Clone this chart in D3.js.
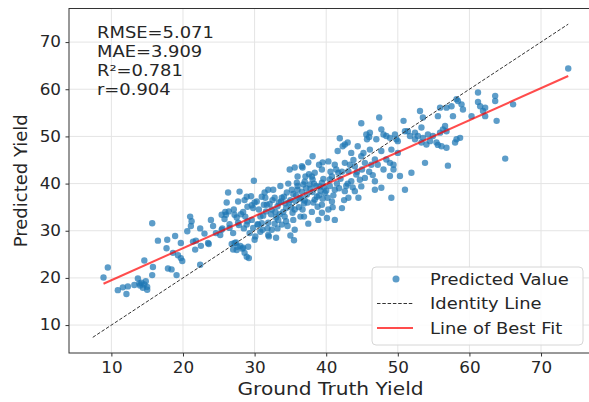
<!DOCTYPE html>
<html>
<head>
<meta charset="utf-8">
<script src="https://cdn.jsdelivr.net/npm/d3@7"></script>
<style>
  html, body { margin: 0; padding: 0; background: #fff; }
  svg { display: block; font-family: "DejaVu Sans", sans-serif; }
</style>
</head>
<body>
<svg id="chart" width="589" height="402"></svg>
<script>
// Each sample: [ground truth yield, predicted yield]
const yieldPairs = [
  [8.9,20.1],[9.5,22.2],[10.9,17.4],[11.6,18.0],[12.1,16.6],[12.3,18.2],
  [13.2,18.5],[13.7,19.9],[13.9,18.8],[14.0,18.4],[14.2,19.0],[14.4,17.9],[14.6,18.6],[14.6,23.7],[14.8,19.3],[15.0,18.1],[15.0,17.5],[15.7,20.6],[15.8,22.3],[15.7,31.6],
  [16.5,27.9],[17.7,26.3],[17.8,28.1],[17.9,22.0],[18.4,21.8],[18.6,25.3],[18.9,28.9],[19.1,20.6],[19.3,24.8],[19.7,24.2],[19.9,23.6],[19.7,27.4],
  [20.6,29.9],[21.0,33.0],[21.2,32.0],[21.1,31.0],[21.4,27.7],[21.7,26.0],[21.8,27.9],[22.4,22.8],[22.4,30.5],[22.5,26.8],[23.0,29.4],[23.5,27.4],[23.6,27.2],[23.9,32.3],[24.2,31.0],
  [24.6,29.5],[25.2,29.1],[25.4,30.2],[25.4,33.4],[25.5,30.5],[25.8,32.5],[25.9,34.0],[26.0,33.4],[26.1,36.0],[26.3,38.1],[26.4,34.1],[26.5,30.6],[26.5,31.4],[26.8,27.2],
  [27.0,29.5],[27.0,26.0],[27.1,34.5],[27.2,33.4],[27.2,27.4],[27.4,27.5],[27.5,25.9],[27.5,32.8],[27.6,26.6],[27.7,31.7],[27.7,36.2],[27.8,31.2],[27.9,38.3],[28.0,26.8],
  [28.1,33.5],[28.3,26.2],[28.4,26.4],[28.4,34.0],[28.5,30.5],[28.6,25.3],[28.6,36.5],[28.7,33.0],[28.9,24.5],[28.9,31.3],[28.9,37.2],[29.0,32.0],[29.0,35.1],[29.1,26.6],[29.2,24.2],
  [29.3,29.5],[29.5,37.3],[29.6,32.3],[29.6,35.4],[29.8,34.8],[29.9,40.6],[30.0,28.1],[30.1,28.8],[30.0,36.0],[30.3,36.2],[30.4,31.4],[30.5,31.3],[30.8,29.8],[30.8,33.0],[31.0,31.6],
  [31.0,37.2],[31.1,30.2],[31.3,35.5],[31.4,38.1],[31.5,37.0],[31.6,34.1],[31.7,35.5],[31.8,30.5],[31.9,38.7],[31.9,31.7],[31.9,29.1],[32.0,28.8],[30.6,34.5],[31.2,33.2],[29.8,30.6],
  [32.1,35.7],[32.3,33.5],[32.4,34.5],[32.4,30.2],[32.6,38.7],[32.8,37.0],[33.0,32.8],[33.3,32.3],[33.4,36.0],[33.6,39.5],[33.8,37.0],[33.8,31.3],[34.0,34.0],[34.2,33.0],[34.3,35.8],
  [34.5,38.1],[34.6,31.0],[34.7,40.0],[34.9,43.0],[35.0,36.5],[35.2,38.7],[35.3,33.8],[35.4,32.3],[35.6,30.2],[35.6,34.5],[35.6,43.4],[35.8,37.5],[35.9,40.2],[35.0,29.0],[33.0,28.5],[35.5,28.0],
  [32.5,36.5],[32.9,34.0],[33.2,35.2],[33.5,33.5],[33.7,36.2],[34.1,37.2],[34.4,34.8],[34.8,36.0],[35.1,35.0],[35.4,37.8],[35.7,36.3],[33.2,30.5],[34.4,32.0],[32.8,31.5],
  [36.0,41.5],[36.0,38.7],[36.2,35.0],[36.4,33.0],[36.7,43.4],[36.7,34.5],[36.8,39.8],[37.0,40.4],[37.0,36.4],[37.3,37.7],[37.5,31.5],[37.6,42.0],[37.8,38.9],[38.0,34.0],[38.1,40.9],
  [38.2,36.0],[38.4,42.3],[38.4,36.6],[38.6,39.5],[38.8,35.1],[38.9,32.3],[39.0,37.5],[39.1,39.4],[39.4,33.8],[39.4,35.5],[39.4,40.2],[39.4,43.0],[39.6,41.0],[39.8,38.0],[36.5,37.0],
  [37.2,39.0],[38.0,41.5],[39.0,44.0],[37.5,44.5],[36.6,43.7],[39.5,44.5],[38.1,45.8],[36.0,39.5],[36.3,36.8],[36.6,38.3],[36.9,35.8],[37.1,41.5],[37.4,36.0],[37.7,39.8],[38.1,38.2],
  [38.3,40.0],[38.7,37.2],[39.2,38.5],[39.5,36.8],[39.7,39.2],[36.9,33.0],
  [40.1,32.7],[40.3,34.5],[40.3,44.7],[40.5,40.9],[40.8,36.2],[41.2,32.3],[41.2,38.7],[41.2,44.0],[41.6,46.9],[41.7,42.3],[41.9,49.6],[42.2,34.8],[42.3,47.9],[42.6,38.4],[42.6,44.4],
  [42.6,48.3],[43.0,48.7],[43.1,37.0],[43.1,42.6],[43.5,40.5],[43.5,46.5],[44.0,38.4],[44.0,43.7],[44.2,41.9],[40.6,42.5],[41.5,40.0],[42.0,41.0],[42.8,39.5],[43.8,45.0],[40.0,38.5],
  [40.9,35.0],[40.2,37.0],[40.5,39.5],[40.8,41.5],[41.0,37.5],[41.4,43.0],[41.8,39.0],[42.2,42.5],[42.5,36.5],[43.0,40.0],[43.3,44.0],[43.7,39.2],
  [44.4,47.9],[44.5,37.0],[44.9,39.4],[44.9,45.8],[44.9,52.8],[45.4,41.2],[45.4,44.4],[45.6,50.4],[45.7,49.4],[46.0,49.9],[46.1,47.2],[46.1,50.8],[46.8,38.7],[46.8,40.5],[46.8,45.1],
  [47.0,49.4],[47.4,54.0],[47.7,39.1],[47.7,46.9],[47.7,51.5],[48.0,43.0],[48.0,50.4],[45.0,43.0],[46.0,42.5],[47.2,44.0],[44.3,42.5],[44.7,40.8],[45.2,46.5],[46.3,44.0],[46.5,41.8],
  [48.4,45.1],[48.4,50.1],[48.9,41.6],[48.9,44.4],[48.9,49.7],[49.1,37.0],[49.1,47.2],[49.4,43.0],[49.6,50.4],[49.8,49.4],[50.0,46.5],[50.0,49.0],[50.3,41.6],[50.8,53.3],[51.0,38.7],
  [51.0,51.1],[51.4,51.1],[51.7,50.1],[51.9,42.3],[49.4,44.0],
  [52.4,49.4],[52.4,50.8],[52.8,50.1],[53.1,55.4],[53.3,48.7],[53.3,51.9],[53.5,54.0],[53.5,49.7],[53.8,44.4],[54.0,48.3],[54.2,50.4],[54.5,49.0],[54.9,50.1],[55.4,48.7],[55.6,54.3],
  [55.6,48.2],[55.9,56.1],[55.9,50.8],
  [56.1,47.9],[56.3,51.5],[56.6,52.2],[56.8,47.6],[56.8,51.1],[56.8,56.1],[57.0,43.8],[57.5,56.4],[57.7,54.3],[58.0,48.7],[58.2,49.4],[58.2,57.9],[58.4,57.5],[58.7,49.7],[58.9,56.8],
  [59.1,55.7],
  [60.3,54.3],[61.2,59.3],[61.2,57.3],[61.5,56.4],[61.9,55.4],[62.2,56.1],[62.2,54.3],[63.6,58.6],[63.6,57.5],[63.8,53.3],[65.0,45.3],[66.1,56.8],[73.8,64.4]
];

const xTicks = [10, 20, 30, 40, 50, 60, 70];
const yTicks = [10, 20, 30, 40, 50, 60, 70];
const axisDomain = [4.08, 77.12];
const identityRange = [7.4, 73.8];
const fitSlope = 0.6785;
const fitIntercept = 12.73;
const metricLabels = ["RMSE=5.071", "MAE=3.909", "R\u00b2=0.781", "r=0.904"];
const legendLabels = ["Predicted Value", "Identity Line", "Line of Best Fit"];
const xTitle = "Ground Truth Yield";
const yTitle = "Predicted Yield";

const plot = { left: 69, top: 8.5, right: 592, bottom: 353 };
const TEXT_STRETCH = 1.12;
const textColor = "#262626";
const pointColor = "#1f77b4";

const svg = d3.select("#chart");
const x = d3.scaleLinear().domain(axisDomain).range([plot.left, plot.right]);
const y = d3.scaleLinear().domain(axisDomain).range([plot.bottom, plot.top]);

// widen glyphs horizontally around their anchor point
function stretchText(sel) {
  sel.each(function () {
    const t = d3.select(this);
    const tx = +t.attr("x") || 0, ty = +t.attr("y") || 0;
    t.attr("x", null).attr("y", null)
     .attr("transform", `translate(${tx},${ty}) scale(${TEXT_STRETCH},1)`);
  });
}

// grid
const grid = svg.append("g").attr("stroke", "#e4e4e4").attr("stroke-width", 1);
grid.selectAll("line.gx").data(xTicks).join("line").attr("class", "gx")
  .attr("x1", d => x(d)).attr("x2", d => x(d))
  .attr("y1", plot.top).attr("y2", plot.bottom);
grid.selectAll("line.gy").data(yTicks).join("line").attr("class", "gy")
  .attr("x1", plot.left).attr("x2", plot.right)
  .attr("y1", d => y(d)).attr("y2", d => y(d));

// scatter points
svg.append("g").selectAll("circle").data(yieldPairs).join("circle")
  .attr("cx", d => x(d[0])).attr("cy", d => y(d[1])).attr("r", 3.2)
  .attr("fill", pointColor).attr("fill-opacity", 0.72);

// identity line
svg.append("line")
  .attr("x1", x(identityRange[0])).attr("y1", y(identityRange[0]))
  .attr("x2", x(identityRange[1])).attr("y2", y(identityRange[1]))
  .attr("stroke", "#333").attr("stroke-width", 1)
  .attr("stroke-dasharray", "3.5,1.8");

// best-fit line across the ground-truth extent
const truthExtent = d3.extent(yieldPairs, d => d[0]);
svg.append("path")
  .datum(truthExtent)
  .attr("d", d3.line().x(v => x(v)).y(v => y(fitSlope * v + fitIntercept)))
  .attr("stroke", "red").attr("stroke-opacity", 0.7).attr("stroke-width", 2).attr("fill", "none");

// frame
svg.append("rect")
  .attr("x", plot.left).attr("y", plot.top)
  .attr("width", plot.right - plot.left).attr("height", plot.bottom - plot.top)
  .attr("fill", "none").attr("stroke", "#333").attr("stroke-width", 1);

// axes
const xAxisG = svg.append("g").attr("transform", `translate(0,${plot.bottom})`)
  .call(d3.axisBottom(x).tickValues(xTicks).tickSize(3.5).tickPadding(6).tickSizeOuter(0));
const yAxisG = svg.append("g").attr("transform", `translate(${plot.left},0)`)
  .call(d3.axisLeft(y).tickValues(yTicks).tickSize(3.5).tickPadding(4.5).tickSizeOuter(0));
[xAxisG, yAxisG].forEach(g => {
  g.select(".domain").remove();
  g.attr("font-family", null).attr("font-size", null);
  g.selectAll(".tick line").attr("stroke", "#333");
  g.selectAll(".tick text").attr("fill", textColor).style("font-size", "15px");
  stretchText(g.selectAll(".tick text"));
});

// axis titles
svg.append("text").attr("x", (plot.left + plot.right) / 2).attr("y", 395)
  .attr("text-anchor", "middle").attr("fill", textColor).style("font-size", "18px")
  .text(xTitle).call(stretchText);
svg.append("text")
  .attr("transform", `translate(27,${(plot.top + plot.bottom) / 2}) rotate(-90)`)
  .attr("text-anchor", "middle").attr("fill", textColor).style("font-size", "18px")
  .text(yTitle);

// metrics block
svg.append("g").selectAll("text").data(metricLabels).join("text")
  .attr("x", 97).attr("y", (d, i) => 38 + i * 19)
  .attr("fill", textColor).style("font-size", "16px")
  .text(d => d).call(stretchText);

// legend
const legend = svg.append("g");
legend.append("rect").attr("x", 372).attr("y", 267).attr("width", 211).attr("height", 78)
  .attr("rx", 4).attr("fill", "#fff").attr("fill-opacity", 0.85)
  .attr("stroke", "#d6d6d6").attr("stroke-width", 1);
const rowY = i => 279 + i * 24.5;
legend.append("circle").attr("cx", 396).attr("cy", rowY(0)).attr("r", 3.5)
  .attr("fill", pointColor).attr("fill-opacity", 0.72);
legend.append("line").attr("x1", 377).attr("x2", 413).attr("y1", rowY(1)).attr("y2", rowY(1))
  .attr("stroke", "#333").attr("stroke-width", 1).attr("stroke-dasharray", "3.5,1.8");
legend.append("line").attr("x1", 377).attr("x2", 413).attr("y1", rowY(2)).attr("y2", rowY(2))
  .attr("stroke", "red").attr("stroke-opacity", 0.7).attr("stroke-width", 2);
legend.selectAll("text").data(legendLabels).join("text")
  .attr("x", 430).attr("y", (d, i) => rowY(i) + 5.8)
  .attr("fill", textColor).style("font-size", "16px")
  .text(d => d).call(stretchText);
</script>
</body>
</html>
